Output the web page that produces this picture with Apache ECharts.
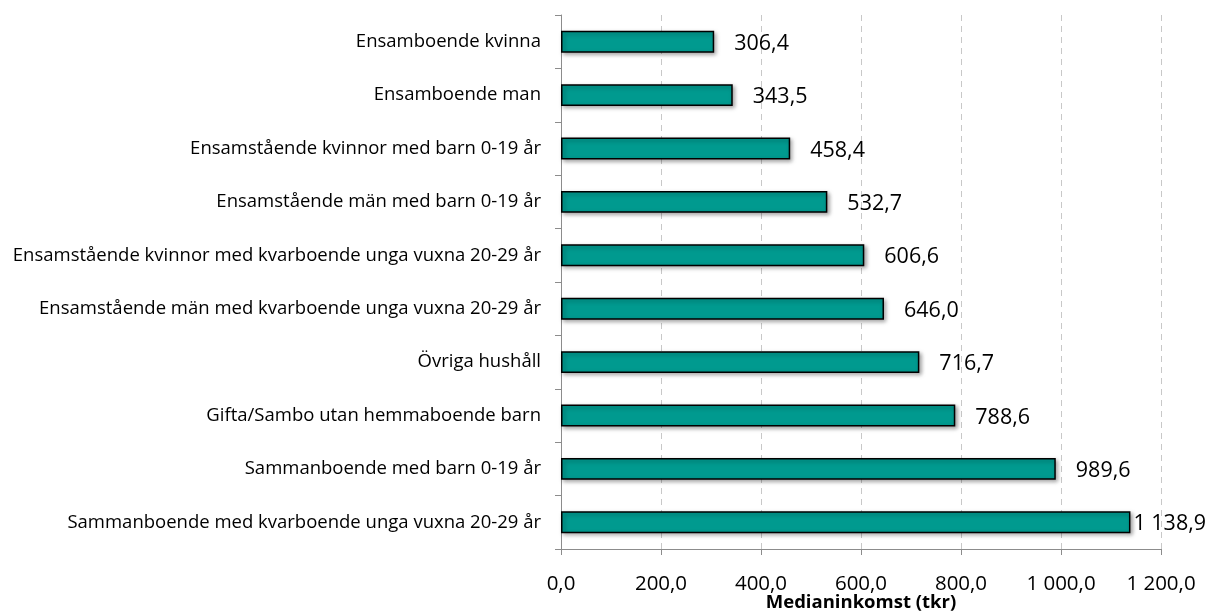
<!DOCTYPE html>
<html>
<head>
<meta charset="utf-8">
<script src="https://cdn.jsdelivr.net/npm/echarts@6/dist/echarts.min.js"></script>
<style>
html, body { margin: 0; padding: 0; background: #fff; }
#chart { width: 1208px; height: 614px; }
</style>
</head>
<body>
<div id="chart"></div>
<script>
var categories = [
    'Ensamboende kvinna',
    'Ensamboende man',
    'Ensamstående kvinnor med barn 0-19 år',
    'Ensamstående män med barn 0-19 år',
    'Ensamstående kvinnor med kvarboende unga vuxna 20-29 år',
    'Ensamstående män med kvarboende unga vuxna 20-29 år',
    'Övriga hushåll',
    'Gifta/Sambo utan hemmaboende barn',
    'Sammanboende med barn 0-19 år',
    'Sammanboende med kvarboende unga vuxna 20-29 år'
];
var values = [306.4, 343.5, 458.4, 532.7, 606.6, 646.0, 716.7, 788.6, 989.6, 1138.9];
var axisMax = 1200;
var axisStep = 200;

function sv(v) {
    var s = v.toFixed(1).split('.');
    var int = s[0].replace(/\B(?=(\d{3})+(?!\d))/g, ' ');
    return int + ',' + s[1];
}

var font = 'Open Sans';
var chart = echarts.init(document.getElementById('chart'));

var data = values.map(function (v) {
    return {
        value: v,
        label: { distance: v > 1100 ? 3 : 20 }
    };
});

chart.setOption({
    animation: false,
    grid: { left: 561, right: 47, top: 15, bottom: 65, outerBoundsMode: 'none' },
    xAxis: {
        type: 'value',
        min: 0,
        max: axisMax,
        interval: axisStep,
        name: 'Medianinkomst (tkr)',
        nameLocation: 'middle',
        nameGap: 44,
        nameMoveOverlap: false,
        nameTextStyle: { fontFamily: font, fontSize: 18.5, fontWeight: 'bold', color: '#000' },
        axisLine: { show: true, lineStyle: { color: '#8c8c8c', width: 1 } },
        axisTick: { show: true, length: 6, lineStyle: { color: '#8c8c8c' } },
        axisLabel: { fontFamily: font, fontSize: 20.5, color: '#000', margin: 25, formatter: sv },
        splitLine: { show: true, lineStyle: { color: '#c8c8c8', type: [6, 5], width: 1 } }
    },
    yAxis: {
        type: 'category',
        data: categories,
        inverse: true,
        axisLine: { show: true, lineStyle: { color: '#8c8c8c', width: 1 } },
        axisTick: { show: true, length: 6, lineStyle: { color: '#8c8c8c' } },
        axisLabel: { fontFamily: font, fontSize: 18.5, color: '#000', margin: 20 }
    },
    series: [{
        type: 'bar',
        data: data,
        barCategoryGap: '59%',
        itemStyle: {
            color: '#009a8f',
            borderColor: '#000',
            borderWidth: 1.5,
            shadowColor: 'rgba(0,0,0,0.35)',
            shadowBlur: 4,
            shadowOffsetX: 2,
            shadowOffsetY: 2
        },
        label: {
            show: true,
            position: 'right',
            fontFamily: font,
            fontSize: 21.5,
            color: '#000',
            offset: [0, 2],
            formatter: function (p) { return sv(p.value); }
        }
    }]
});
</script>
</body>
</html>
